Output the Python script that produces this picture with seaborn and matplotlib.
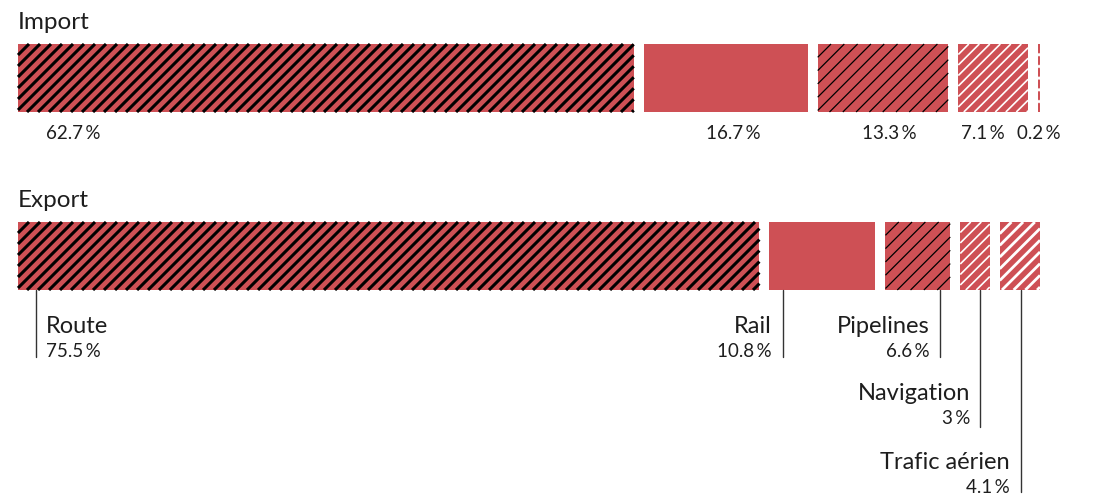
import numpy as np
import pandas as pd
import seaborn as sns
import matplotlib
matplotlib.use("Agg")
import matplotlib.pyplot as plt
from matplotlib.collections import LineCollection

# ---- data ----
modes = ["Route", "Rail", "Pipelines", "Navigation", "Trafic aérien"]
import_share = [62.7, 16.7, 13.3, 7.1, 0.2]
export_share = [75.5, 10.8, 6.6, 3.0, 4.1]
import_labels = ["62.7\u2009%", "16.7\u2009%", "13.3\u2009%", "7.1\u2009%", "0.2\u2009%"]
export_labels = ["75.5\u2009%", "10.8\u2009%", "6.6\u2009%", "3\u2009%", "4.1\u2009%"]

sns.set_theme(style="white")
plt.rcParams['font.family'] = ['Lato', 'DejaVu Sans']

W, H = 1094, 498
fig = plt.figure(figsize=(W / 100, H / 100), dpi=100)
ax = fig.add_axes([0, 0, 1, 1])
ax.set_xlim(0, W)
ax.set_ylim(H, 0)
ax.axis("off")

RED = "#CE5055"
TXT = "#1e1e1e"
X0, SCALE, GAP = 18, 9.82, 10
BAR_H = 68
TITLE_FS, NAME_FS, PCT_FS = 17.5, 17, 13.5

# hatch styles per mode: (color, spacing px, linewidth pt)
hatches = [("black", 11.0, 2.2), None, ("black", 13.3, 0.9),
           ("white", 10.5, 1.2), ("white", 11.7, 2.0)]


def draw_row(values, yc):
    cum = 0.0
    for i, v in enumerate(values):
        left = X0 + cum * SCALE + i * GAP
        right = left + v * SCALE
        ax.barh(yc, v * SCALE, left=left, height=BAR_H,
                color=RED, edgecolor="none")
        hs = hatches[i]
        if hs is not None:
            col, sp, lw = hs
            top, bot = yc - BAR_H / 2, yc + BAR_H / 2
            segs = []
            c = left - BAR_H - sp
            while c < right + sp:
                t0 = max(0.0, (left - c) / BAR_H)
                t1 = min(1.0, (right - c) / BAR_H)
                if t1 > t0:
                    segs.append([(c + t0 * BAR_H, bot - t0 * BAR_H),
                                 (c + t1 * BAR_H, bot - t1 * BAR_H)])
                c += sp
            lc = LineCollection(segs, colors=col, linewidths=lw,
                                capstyle="butt")
            ax.add_collection(lc)
        cum += v


# ---- Import ----
ax.text(18, 22, "Import", fontsize=TITLE_FS, color=TXT, va="center", ha="left")
draw_row(import_share, 78)
imp_x = [46, 761, 917, 1005, 1061]
imp_ha = ["left", "right", "right", "right", "right"]
for lab, x, ha in zip(import_labels, imp_x, imp_ha):
    ax.text(x, 133, lab, fontsize=PCT_FS, color=TXT, va="center", ha=ha)

# ---- Export ----
ax.text(18, 200, "Export", fontsize=TITLE_FS, color=TXT, va="center", ha="left")
draw_row(export_share, 256)

line_x = [36, 783, 940, 980, 1021]
line_end = [357, 357, 357, 427, 492]
name_y = [326, 326, 326, 393, 462]
text_x = [46, 772, 930, 970, 1010]
text_ha = ["left", "right", "right", "right", "right"]
for i in range(5):
    ax.plot([line_x[i], line_x[i]], [290, line_end[i]], color="#333333", lw=1.0)
    ax.text(text_x[i], name_y[i], modes[i], fontsize=NAME_FS, color=TXT,
            va="center", ha=text_ha[i])
    ax.text(text_x[i], name_y[i] + 25, export_labels[i], fontsize=PCT_FS,
            color=TXT, va="center", ha=text_ha[i])

fig.savefig("out.png", dpi=100)
